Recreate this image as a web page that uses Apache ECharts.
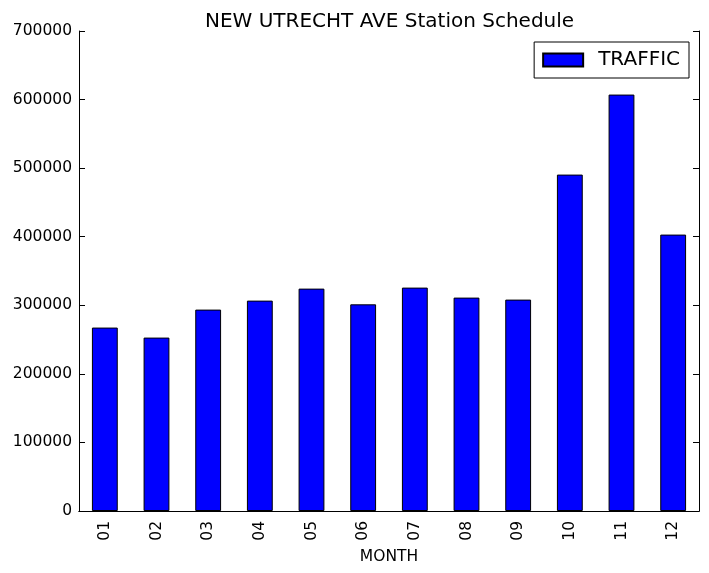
<!DOCTYPE html>
<html lang="en">
<head>
    <meta charset="UTF-8">
    <title>NEW UTRECHT AVE</title>
    <script src="https://cdn.jsdelivr.net/npm/echarts@6/dist/echarts.min.js"></script>
    <style>
        body { margin: 0; background: #fff; }
        #main { width: 709px; height: 573px; }
    </style>
</head>
<body>
<div id="main"></div>
<script>
    // 数据
    var months = ['01', '02', '03', '04', '05', '06', '07', '08', '09', '10', '11', '12'];
    var traffic = [267500, 252900, 293700, 306800, 324300, 301400, 325800, 311200, 308300, 490600, 607300, 403100];
    var yTicks = [0, 100000, 200000, 300000, 400000, 500000, 600000, 700000];

    var font = 'DejaVu Sans';
    var myChart = echarts.init(document.getElementById('main'));

    var option = {
        animation: false,
        backgroundColor: '#fff',
        title: {
            text: 'NEW UTRECHT AVE Station Schedule',
            left: 200,
            top: 7,
            textStyle: { fontFamily: font, fontSize: 20, fontWeight: 'normal', color: '#000' }
        },
        legend: {
            data: ['TRAFFIC'],
            icon: 'rect',
            right: 20,
            top: 42,
            itemWidth: 40,
            itemHeight: 13,
            padding: [8, 9, 8, 8],
            borderColor: '#000',
            borderWidth: 1,
            borderRadius: 0,
            textStyle: { fontFamily: font, fontSize: 20, color: '#000', padding: [0, 0, 0, 10] }
        },
        grid: { left: 79, right: 10, top: 31, bottom: 62, containLabel: false, outerBoundsMode: 'none' },
        xAxis: [{
            type: 'category',
            data: months,
            name: 'MONTH',
            nameLocation: 'middle',
            nameGap: 37,
            nameTextStyle: { fontFamily: font, fontSize: 15.5, color: '#000' },
            axisLine: { lineStyle: { color: '#000', width: 1 } },
            axisTick: { inside: true, alignWithLabel: true, length: 5, lineStyle: { color: '#000' } },
            axisLabel: { rotate: 90, margin: 10, fontFamily: font, fontSize: 15.5, color: '#000' }
        }, {
            type: 'category',
            data: months,
            position: 'top',
            axisLine: { lineStyle: { color: '#000', width: 1 } },
            axisTick: { inside: true, alignWithLabel: true, length: 5, lineStyle: { color: '#000' } },
            axisLabel: { show: false }
        }],
        yAxis: [{
            type: 'value',
            min: yTicks[0],
            max: yTicks[yTicks.length - 1],
            interval: 100000,
            axisLine: { show: true, lineStyle: { color: '#000', width: 1 } },
            axisTick: { show: true, inside: true, length: 6, lineStyle: { color: '#000' } },
            axisLabel: {
                margin: 7, fontFamily: font, fontSize: 15.5, color: '#000',
                formatter: function (v) { return String(v); }
            },
            splitLine: { show: false }
        }, {
            type: 'value',
            position: 'right',
            min: yTicks[0],
            max: yTicks[yTicks.length - 1],
            interval: 100000,
            axisLine: { show: true, lineStyle: { color: '#000', width: 1 } },
            axisTick: { show: true, inside: true, length: 6, lineStyle: { color: '#000' } },
            axisLabel: { show: false },
            splitLine: { show: false }
        }],
        series: [{
            name: 'TRAFFIC',
            type: 'bar',
            data: traffic,
            barWidth: '50%',
            itemStyle: { color: '#0000ff', borderColor: '#000', borderWidth: 1 }
        }]
    };

    myChart.setOption(option);
</script>
</body>
</html>
